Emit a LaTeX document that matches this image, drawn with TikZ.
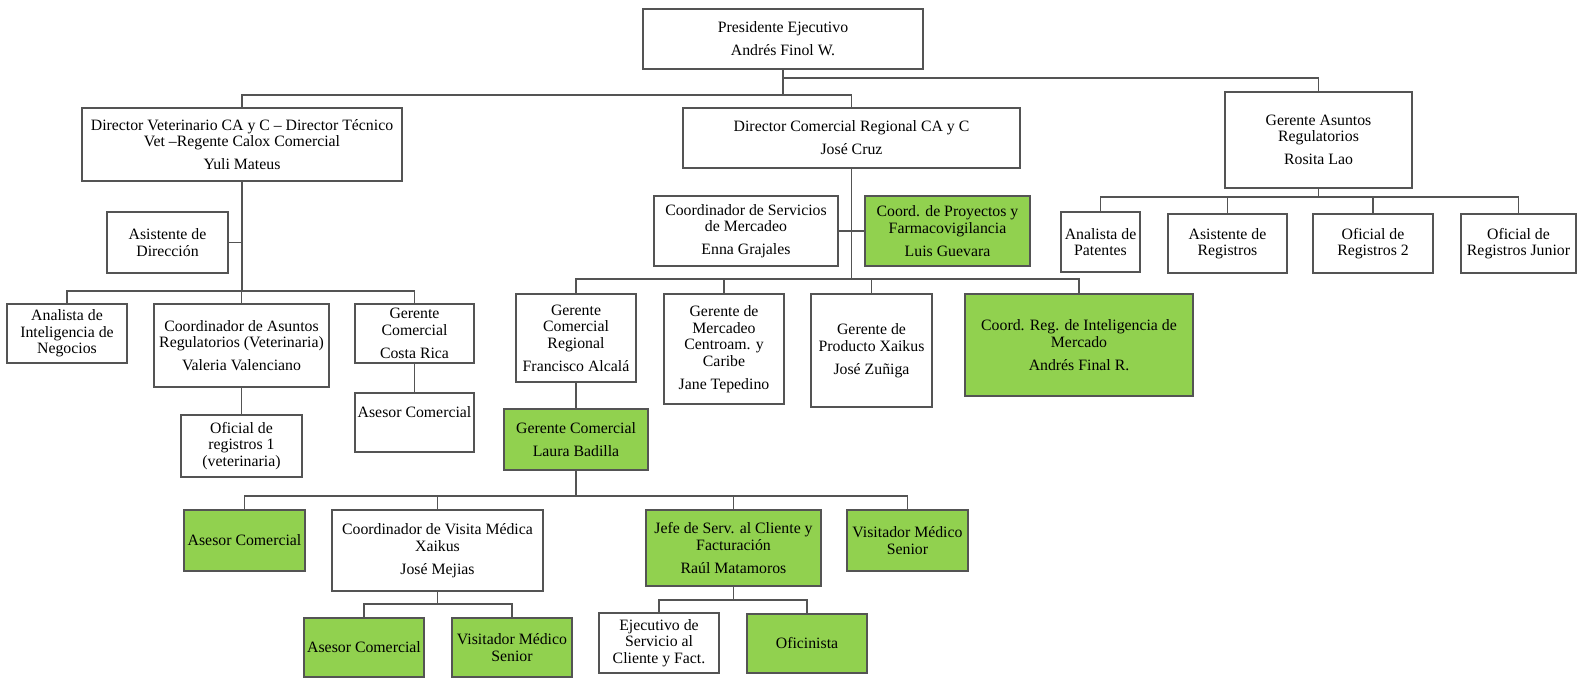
\documentclass[tikz,border=0pt]{standalone}
\usepackage{fontspec}
\setmainfont{Liberation Serif}
\usepackage{xcolor}
\definecolor{linegray}{rgb}{0.33, 0.33, 0.33}
\definecolor{leafgreen}{rgb}{0.57, 0.82, 0.31}
\RequirePackage{tikz}
\usetikzlibrary{positioning}
\tikzset{
	orgbox/.style={draw=linegray, line width=2.2pt, fill=white, align=center, inner sep=1pt, font=\fontsize{15.8}{16.5}\selectfont},
	greenbox/.style={orgbox, fill=leafgreen},
	boxsize/.style 2 args={minimum width=#1pt, minimum height=#2pt},
	orglink/.style={linegray, line width=1.8pt}
}

\begin{document}
\begin{tikzpicture}[x=1pt, y=-1pt]
				\useasboundingbox (0,0) rectangle (1578,679);
				% top level
				\node[orgbox, boxsize={280}{60}] (pres) at (783,39) {Presidente Ejecutivo\\[6.5pt]Andrés Finol W.};
				\node[orgbox, boxsize={320}{73}] (dirvet) at (242,144.5) {Director Veterinario CA y C – Director Técnico\\Vet –Regente Calox Comercial\\[6.5pt]Yuli Mateus};
				\node[orgbox, boxsize={337}{60}] (dircom) at (851.5,138) {Director Comercial Regional CA y C\\[6.5pt]José Cruz};
				\node[orgbox, boxsize={187}{96}] (gar) at (1318.5,140) {Gerente Asuntos\\Regulatorios\\[6.5pt]Rosita Lao};
				% veterinaria
				\node[orgbox, boxsize={121}{61}] (asdir) at (167.5,242.5) {Asistente de\\Dirección};
				\node[orgbox, boxsize={120}{59}] (anint) at (67,333.5) {Analista de\\Inteligencia de\\Negocios};
				\node[orgbox, boxsize={175}{83}] (cavet) at (241.5,345.5) {Coordinador de Asuntos\\Regulatorios (Veterinaria)\\[6.5pt]Valeria Valenciano};
				\node[orgbox, boxsize={119}{59}] (gcrica) at (414.5,333.5) {Gerente\\Comercial\\[6.5pt]Costa Rica};
				\node[orgbox, boxsize={121}{62}] (ofreg1) at (241.5,446) {Oficial de\\registros 1\\(veterinaria)};
				\node[orgbox, boxsize={119}{59}, text depth=21pt] (asecr) at (414.5,422.5) {Asesor Comercial};
				% regulatorios
				\node[orgbox, boxsize={79}{60}] (apat) at (1100.5,242) {Analista de\\Patentes};
				\node[orgbox, boxsize={119}{59}] (asreg) at (1227.5,243.5) {Asistente de\\Registros};
				\node[orgbox, boxsize={120}{59}] (ofreg2) at (1373,243.5) {Oficial de\\Registros 2};
				\node[orgbox, boxsize={115}{59}] (ofregj) at (1518.5,243.5) {Oficial de\\Registros Junior};
				% comercial
				\node[orgbox, boxsize={184}{70}] (cserv) at (746,231) {Coordinador de Servicios\\de Mercadeo\\[6.5pt]Enna Grajales};
				\node[greenbox, boxsize={165}{70}] (cproy) at (947.5,231) {Coord. de Proyectos y\\Farmacovigilancia\\[6.5pt]Luis Guevara};
				\node[orgbox, boxsize={120}{88}] (gcreg) at (576,338) {Gerente\\Comercial\\Regional\\[6.5pt]Francisco Alcalá};
				\node[orgbox, boxsize={120}{110}] (gmerc) at (724,349) {Gerente de\\Mercadeo\\Centroam. y\\Caribe\\[6.5pt]Jane Tepedino};
				\node[orgbox, boxsize={121}{113}] (gprod) at (871.5,350.5) {Gerente de\\Producto Xaikus\\[6.5pt]José Zuñiga};
				\node[greenbox, boxsize={228}{102}] (crint) at (1079,345) {Coord. Reg. de Inteligencia de\\Mercado\\[6.5pt]Andrés Final R.};
				\node[greenbox, boxsize={144}{61}] (laura) at (576,439.5) {Gerente Comercial\\[6.5pt]Laura Badilla};
				\node[greenbox, boxsize={121}{61}] (asel) at (244.5,540.5) {Asesor Comercial};
				\node[orgbox, boxsize={211}{81}] (cvm) at (437.5,550.5) {Coordinador de Visita Médica\\Xaikus\\[6.5pt]José Mejias};
				\node[greenbox, boxsize={175}{76}] (jefe) at (733.5,548) {Jefe de Serv. al Cliente y\\Facturación\\[6.5pt]Raúl Matamoros};
				\node[greenbox, boxsize={121}{61}] (visr) at (907.5,540.5) {Visitador Médico\\Senior};
				\node[greenbox, boxsize={120}{59}] (aseb) at (364,647.5) {Asesor Comercial};
				\node[greenbox, boxsize={120}{59}] (visb) at (512,647.5) {Visitador Médico\\Senior};
				\node[orgbox, boxsize={120}{60}] (ejec) at (659,643) {Ejecutivo de\\Servicio al\\Cliente y Fact.};
				\node[greenbox, boxsize={120}{59}] (ofic) at (807,643.5) {Oficinista};
				% connectors
				\draw[orglink] (pres.south) -- ++(0,25) -| (dirvet.north);
				\draw[orglink] (pres.south) -- ++(0,25) -| (dircom.north);
				\draw[orglink] (pres.south) -- ++(0,8) -| (gar.north);
				\draw[orglink] (asdir.east) -| (dirvet.south);
				\draw[orglink] (dirvet.south) -- ++(0,109) -| (anint.north);
				\draw[orglink] (dirvet.south) -- ++(0,109) -| (cavet.north);
				\draw[orglink] (dirvet.south) -- ++(0,109) -| (gcrica.north);
				\draw[orglink] (cavet.south) -- (ofreg1.north);
				\draw[orglink] (gcrica.south) -- (asecr.north);
				\draw[orglink] (gar.south) -- ++(0,8) -| (apat.north);
				\draw[orglink] (gar.south) -- ++(0,8) -| (asreg.north);
				\draw[orglink] (gar.south) -- ++(0,8) -| (ofreg2.north);
				\draw[orglink] (gar.south) -- ++(0,8) -| (ofregj.north);
				\draw[orglink] (cserv.east) -- (cproy.west);
				\draw[orglink] (dircom.south) -- ++(0,110) -| (gcreg.north);
				\draw[orglink] (dircom.south) -- ++(0,110) -| (gmerc.north);
				\draw[orglink] (dircom.south) -- ++(0,110) -| (gprod.north);
				\draw[orglink] (dircom.south) -- ++(0,110) -| (crint.north);
				\draw[orglink] (gcreg.south) -- (laura.north);
				\draw[orglink] (laura.south) -- ++(0,25) -| (asel.north);
				\draw[orglink] (laura.south) -- ++(0,25) -| (cvm.north);
				\draw[orglink] (laura.south) -- ++(0,25) -| (jefe.north);
				\draw[orglink] (laura.south) -- ++(0,25) -| (visr.north);
				\draw[orglink] (cvm.south) -- ++(0,12) -| (aseb.north);
				\draw[orglink] (cvm.south) -- ++(0,12) -| (visb.north);
				\draw[orglink] (jefe.south) -- ++(0,13) -| (ejec.north);
				\draw[orglink] (jefe.south) -- ++(0,13) -| (ofic.north);
\end{tikzpicture}
\end{document}
